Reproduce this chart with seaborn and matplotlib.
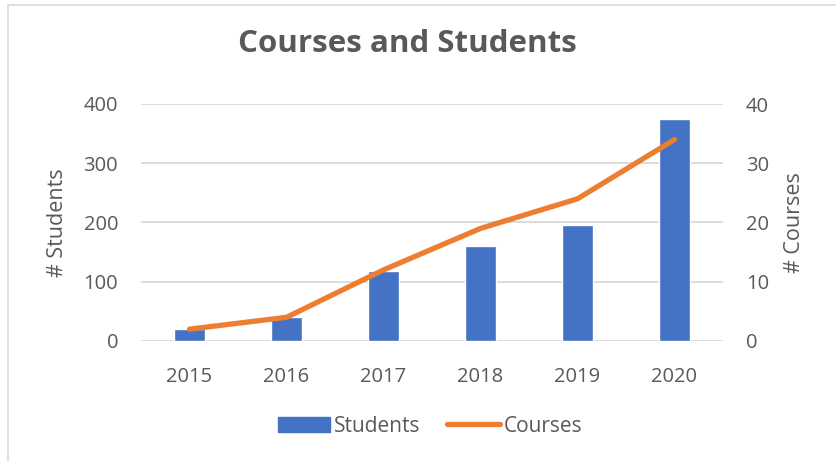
import numpy as np
import pandas as pd
import seaborn as sns
import matplotlib.pyplot as plt
from matplotlib.patches import Patch, Rectangle
from matplotlib.lines import Line2D

years = ["2015", "2016", "2017", "2018", "2019", "2020"]
students = [21, 40, 118, 160, 196, 375]
courses = [2, 4, 12, 19, 24, 34]

blue = "#4472C4"
orange = "#ED7D31"
txt = "#595959"
grid = "#D9D9D9"

sns.set_style("white")
plt.rcParams["font.family"] = ["Open Sans", "DejaVu Sans"]

df = pd.DataFrame({"year": years, "students": students, "courses": courses})

fig = plt.figure(figsize=(8.37, 4.61), dpi=100)
ax = fig.add_axes([141 / 837, 1 - 341 / 461, 582 / 837, 237 / 461])

sns.barplot(data=df, x="year", y="students", color=blue, width=0.31,
            saturation=1, ax=ax, zorder=2)
ax.set_ylim(0, 400)
ax.set_yticks([0, 100, 200, 300, 400])
ax.yaxis.grid(True, color=grid, lw=1.3, zorder=0)
ax.set_axisbelow(True)

ax2 = ax.twinx()
sns.pointplot(data=df, x="year", y="courses", color=orange, marker="",
              linewidth=3.8, solid_capstyle="round", solid_joinstyle="round",
              errorbar=None, ax=ax2)
ax2.set_ylim(0, 40)
ax2.set_yticks([0, 10, 20, 30, 40])
ax.set_xlim(-0.5, len(years) - 0.5)

for a in (ax, ax2):
    for s in a.spines.values():
        s.set_visible(False)
    a.tick_params(length=0, labelsize=14.5, colors=txt, pad=16.5)
    a.set_xlabel("")
ax.tick_params(axis="x", pad=18.5)
ax2.grid(False)

ax.set_ylabel("# Students", fontsize=15.5, color=txt, labelpad=11)
ax2.set_ylabel("# Courses", fontsize=15.5, color=txt, labelpad=11, rotation=90)

fig.text(407 / 837, 1 - 44 / 461, "Courses and Students", ha="center", va="center",
         fontsize=22.5, fontweight="bold", color=txt)

handles = [Patch(color=blue, label="Students"),
           Line2D([0], [0], color=orange, lw=3.8, solid_capstyle="round", label="Courses")]
fig.legend(handles=handles, loc="center", bbox_to_anchor=(430 / 837, 1 - 426 / 461),
           ncol=2, frameon=False, fontsize=15, handlelength=2.5, handleheight=0.75,
           handletextpad=0.2, columnspacing=1.3, labelcolor=txt)

fig.patches.append(Rectangle((8 / 837, -0.1), 1.5, (461 - 5) / 461 + 0.1,
                             transform=fig.transFigure, fill=False, ec=grid, lw=1.2))

fig.savefig("out.png", dpi=100)
